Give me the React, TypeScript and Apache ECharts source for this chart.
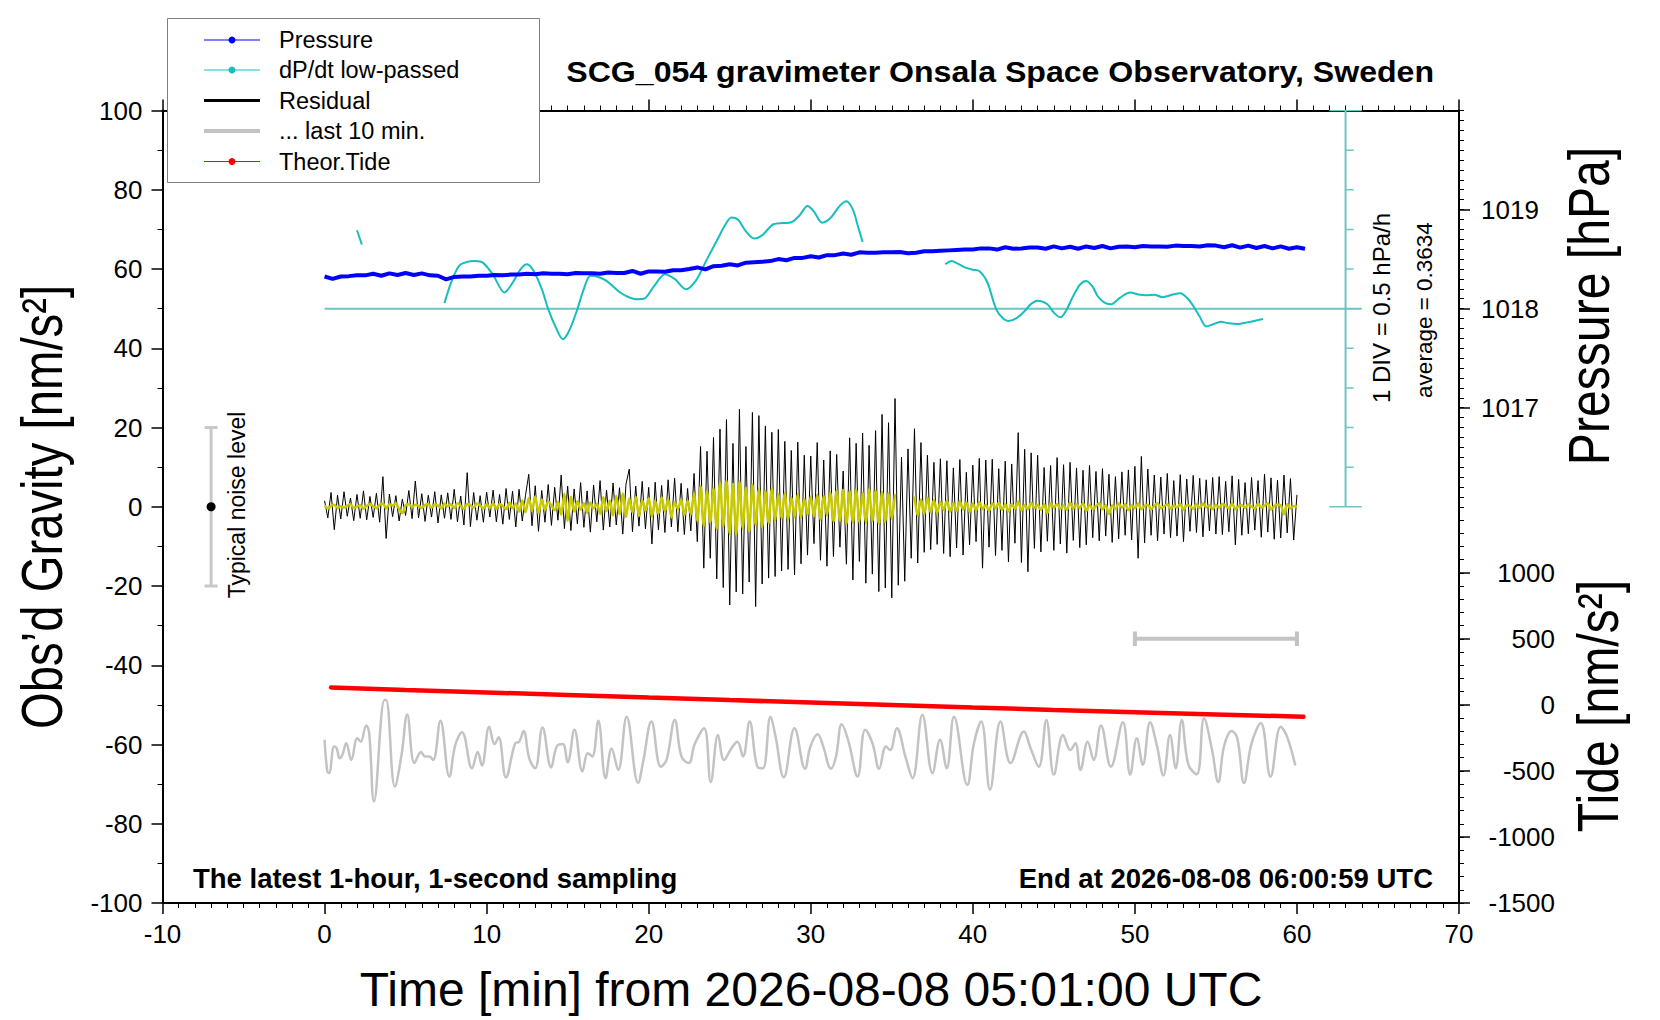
import React, { useEffect, useRef } from 'react';
import * as echarts from 'echarts';

const FONT = "'Liberation Sans', Arial, Helvetica, sans-serif";

// residual gravity [nm/s^2], one value every 0.2 min from 0 to 60 min
const residualStep = 0.2;
const residual: number[] = [
  1.5, -2.8, 3.6, -5.8, 2.9, -3.1, 3.8, -2.4, 2.2, -3.5, 3.1, -2.9, 4.0, -3.3, 2.6, -2.7, 3.4, -3.9, 7.6, -8.0, 3.2, -2.5, 2.8, -3.6, 1.9,
  -2.2, 4.1, -3.0, 6.5, -2.8, 3.3, -3.7, 2.9, -2.6, 3.8, -4.1, 3.0, -2.9, 3.5, -3.2, 4.4, -3.8, 2.7, -4.6, 8.6, -5.0, 3.6, -3.4, 2.8, -3.9,
  3.7, -2.6, 4.2, -3.8, 3.1, -4.4, 4.6, -3.2, 3.9, -5.1, 4.4, -3.6, 2.9, 8.2, -4.8, 5.3, -6.2, 4.1, -3.9, 5.6, -4.7, 4.9, -3.4, 8.0, -5.5,
  5.2, -6.0, 4.5, -4.3, 6.1, -5.2, 4.0, -6.4, 5.5, -3.8, 6.6, -5.9, 4.2, -5.1, 6.0, -4.6, 4.8, -6.9, 5.7, 9.5, -6.3, 5.2, -4.9, 6.4, -5.6,
  4.9, -9.4, 6.2, -5.8, 5.4, -6.5, 6.8, -5.1, 7.2, -6.3, 5.9, -7.0, 4.6, -6.1, 8.4, -8.8, 15.2, -15.5, 14.0, -13.0, 17.5, -18.2, 19.6, -20.4, 22.0,
  -24.8, 16.0, -21.5, 24.6, -22.0, 15.2, -19.0, 23.8, -25.2, 23.0, -19.5, 20.4, -18.0, 18.8, -17.6, 19.5, -16.2, 16.5, -15.8, 14.2, -17.2, 16.3, -14.4, 13.0, -12.2,
  12.8, -9.3, 16.2, -13.5, 11.8, -15.0, 14.1, -12.6, 13.2, -10.2, 9.0, -14.5, 17.4, -18.5, 16.0, -13.8, 18.6, -19.3, 15.5, -17.0, 19.2, -21.4, 23.3, -20.5, 21.2,
  -23.0, 27.3, -19.8, 12.5, -18.8, 14.6, -13.0, 19.7, -14.2, 16.2, -11.5, 13.0, -10.8, 11.2, -9.5, 12.1, -11.8, 11.6, -12.6, 9.8, -10.4, 11.9, -12.2, 8.7, -9.6,
  10.5, -8.8, 12.2, -15.5, 11.8, -10.2, 12.0, -12.3, 9.6, -11.0, 11.5, -13.9, 10.8, -9.2, 18.7, -14.1, 14.5, -16.4, 13.6, -10.5, 13.0, -11.4, 9.9, -8.7, 10.4,
  -11.0, 12.4, -9.4, 10.6, -11.7, 11.2, -8.5, 9.8, -10.3, 9.2, -9.6, 10.4, -7.8, 8.9, -8.6, 9.6, -7.4, 8.2, -9.0, 7.6, -8.1, 8.8, -7.2, 9.3, -8.4,
  10.2, -13.0, 12.7, -9.1, 9.5, -7.2, 8.0, -8.6, 7.5, -6.9, 8.4, -7.8, 6.6, -7.4, 8.1, -8.8, 7.0, -6.2, 7.9, -6.5, 7.2, -7.6, 6.8, -6.1, 7.4,
  -6.9, 7.6, -7.0, 6.4, -6.3, 7.8, -9.6, 6.9, -7.2, 6.1, -6.8, 7.4, -5.9, 6.6, -7.7, 8.2, -6.4, 7.3, -8.2, 6.7, -7.9, 8.0, -6.6, 7.1, -8.4,
  3.0,
];

// low-passed residual (yellow), same sampling
const residualLow: (number | null)[] = [
  0.3, -0.4, 0.2, 0.5, -0.3, 0.1, -0.2, 0.3, 0.6, -0.2, 0.0, 0.4, -0.5, 0.2, 0.7, 0.1, -0.3, 0.5, 0.8, -0.4, 0.6, 0.3, 0.9, -0.6, -1.6,
  0.4, 0.6, -0.1, 0.5, 0.2, -0.3, 0.4, 0.7, -0.2, 0.5, 0.3, -0.4, 0.8, 0.1, 0.6, -0.3, 0.9, 0.2, -0.5, 0.7, 0.4, -0.2, 0.8, 0.3, -0.4,
  0.6, -0.3, 0.9, -0.5, 0.7, 0.2, -0.6, 1.0, -0.4, 0.8, -1.2, 1.6, -1.4, 2.2, -1.0, 2.6, -1.6, 1.8, -0.8, 1.4, 0.3, -0.9, 1.2, -2.0, 3.3,
  -3.6, 2.6, -1.2, 1.4, -0.8, 0.9, -1.5, 1.1, -0.4, 0.7, -1.8, 2.4, -1.1, 1.6, -2.2, 2.8, -1.9, 3.4, -2.6, 2.1, -1.4, 2.5, -2.3, 1.7, -1.0,
  2.2, -2.5, 1.5, -1.8, 2.4, -1.2, 2.0, -2.7, 1.2, -0.6, 1.8, -2.1, 1.6, -1.9, 3.4, -3.6, 5.2, -4.8, 4.0, -3.9, 4.6, -5.6, 6.2, -5.0, 6.6,
  -6.9, 5.8, -7.0, 6.4, -5.5, 4.8, -6.2, 5.6, -4.6, 4.4, -5.2, 3.9, -4.1, 4.6, -3.5, 3.2, -2.9, 3.6, -3.4, 2.4, -2.6, 3.2, -2.8, 2.0, -1.9,
  2.6, -2.4, 3.1, -3.3, 2.8, -2.2, 3.6, -3.8, 4.1, -3.5, 4.2, -4.3, 3.9, -4.0, 4.3, -3.8, 3.5, -4.1, 4.4, -3.6, 4.0, -4.2, 3.7, -3.9, 3.4,
  -3.0, 3.2, null, null, null, null, null, 2.6, -2.2, 1.8, -1.9, 2.3, -1.4, 1.7, -1.6, 1.2, -0.8, 1.5, -1.2, 0.9, -1.1, 1.4, -0.7, 1.1, -1.3,
  0.8, -0.9, 1.2, -0.6, 0.5, -1.0, 0.9, -0.4, 1.1, -0.8, 0.6, -1.2, 0.7, -0.5, 1.3, -0.9, 0.4, -0.6, 1.0, -0.3, 0.5, -0.8, 0.6, -1.6, 0.9,
  -0.2, 0.7, -0.5, 0.3, -0.8, 1.0, -0.4, 0.6, -0.3, 0.9, -1.1, 0.5, -0.6, 0.2, 0.8, -0.7, 0.4, -1.8, 0.3, -0.5, 0.9, -0.2, 0.6, -0.9, 0.4,
  -0.3, 0.8, -0.6, 0.2, 0.5, -0.7, 0.3, 0.9, -0.4, 0.1, 0.6, -0.5, 0.3, -0.2, 0.7, -0.8, 0.4, 0.2, -0.5, 0.6, -0.3, 0.8, -0.1, 0.4, -0.6,
  0.5, -0.2, 0.7, 0.3, -0.4, 0.9, -0.6, 0.2, 0.4, -0.3, 0.6, 0.1, -0.5, 0.8, -0.2, 0.3, 0.9, -0.7, 0.2, 0.5, 0.4, -1.9, 0.6, -0.4, 0.2,
  0.0,
];

// air pressure [hPa], every 0.5 min
const pressureStep = 0.5;
const pressure: number[] = [
  1018.324, 1018.300, 1018.324, 1018.328, 1018.336, 1018.336, 1018.352, 1018.332, 1018.356, 1018.340,
  1018.360, 1018.340, 1018.356, 1018.336, 1018.332, 1018.296, 1018.320, 1018.324, 1018.324, 1018.332,
  1018.332, 1018.340, 1018.336, 1018.344, 1018.344, 1018.352, 1018.348, 1018.356, 1018.352, 1018.352,
  1018.348, 1018.360, 1018.356, 1018.356, 1018.352, 1018.364, 1018.360, 1018.360, 1018.380, 1018.352,
  1018.376, 1018.376, 1018.372, 1018.388, 1018.388, 1018.400, 1018.416, 1018.396, 1018.428, 1018.432,
  1018.448, 1018.436, 1018.464, 1018.468, 1018.472, 1018.480, 1018.500, 1018.488, 1018.512, 1018.512,
  1018.528, 1018.516, 1018.540, 1018.540, 1018.556, 1018.544, 1018.568, 1018.564, 1018.564, 1018.568,
  1018.568, 1018.572, 1018.560, 1018.564, 1018.580, 1018.580, 1018.584, 1018.588, 1018.592, 1018.596,
  1018.596, 1018.608, 1018.608, 1018.596, 1018.620, 1018.604, 1018.608, 1018.616, 1018.616, 1018.604,
  1018.628, 1018.608, 1018.624, 1018.604, 1018.628, 1018.612, 1018.632, 1018.608, 1018.624, 1018.628,
  1018.620, 1018.632, 1018.628, 1018.628, 1018.624, 1018.636, 1018.632, 1018.632, 1018.628, 1018.640,
  1018.636, 1018.620, 1018.640, 1018.616, 1018.636, 1018.612, 1018.632, 1018.608, 1018.628, 1018.604,
  1018.620, 1018.604,
];

// dP/dt low-passed [hPa/h], null = gap
const dpdt: ([number, number] | null)[] = [
  [2.0, 1.353], [2.3, 1.173],
  null,
  [7.4, 0.433], [7.8, 0.688], [8.3, 0.903], [8.8, 0.953], [9.3, 0.963], [9.8, 0.938], [10.4, 0.788],
  [11.1, 0.568], [11.6, 0.688], [12.1, 0.863], [12.5, 0.923], [12.9, 0.838], [13.4, 0.613], [13.8, 0.358],
  [14.3, 0.113], [14.7, -0.022], [15.1, 0.088], [15.6, 0.358], [16.0, 0.613], [16.4, 0.778], [16.9, 0.763],
  [17.4, 0.713], [18.2, 0.573], [18.7, 0.513], [19.2, 0.483], [19.7, 0.488], [20.3, 0.638], [21.0, 0.798],
  [21.6, 0.738], [22.3, 0.608], [22.9, 0.713], [23.6, 0.988], [24.25, 1.238], [24.7, 1.413], [25.1, 1.513],
  [25.5, 1.488], [26.0, 1.338], [26.5, 1.248], [27.0, 1.288], [27.7, 1.428], [28.3, 1.443], [28.8, 1.453],
  [29.3, 1.538], [29.8, 1.658], [30.2, 1.588], [30.7, 1.448], [31.2, 1.503], [31.8, 1.663], [32.2, 1.718],
  [32.6, 1.613], [32.9, 1.413], [33.2, 1.203],
  null,
  [38.3, 0.923], [38.7, 0.963], [39.1, 0.928], [39.5, 0.883], [40.0, 0.853], [40.4, 0.838], [40.9, 0.693],
  [41.5, 0.333], [42.2, 0.208], [42.7, 0.243], [43.2, 0.333], [43.6, 0.423], [44.0, 0.463], [44.6, 0.418],
  [45.0, 0.313], [45.4, 0.253], [45.8, 0.353], [46.1, 0.483], [46.6, 0.663], [47.0, 0.713], [47.4, 0.638],
  [47.7, 0.523], [48.1, 0.443], [48.5, 0.418], [49.1, 0.503], [49.7, 0.568], [50.2, 0.543], [50.7, 0.533],
  [51.2, 0.538], [51.7, 0.508], [52.3, 0.538], [52.8, 0.558], [53.2, 0.503], [53.6, 0.398], [54.0, 0.263],
  [54.4, 0.138], [54.8, 0.163], [55.3, 0.198], [55.8, 0.178], [56.3, 0.168], [57.0, 0.193], [57.9, 0.233],
];
const dpdtAverage = 0.3634;
const dpdtDiv = 0.5;

// last 10 minutes of residual, stretched over the hour and offset [nm/s^2]
const lastTenMin: [number, number][] = [
  [0.0, -58.8], [0.17, -66.8], [0.28, -67.2], [0.59, -60.5], [0.75, -61.0], [0.93, -63.5], [1.1, -62.6], [1.34, -59.7],
  [1.65, -63.9], [2.02, -58.4], [2.23, -59.3], [2.57, -55.2], [2.75, -57.0], [3.05, -74.4], [3.7, -48.8], [3.8, -48.8],
  [4.34, -70.6], [4.75, -62.6], [5.1, -52.4], [5.55, -64.7], [5.96, -61.9], [6.19, -63.0], [6.47, -63.0], [6.7, -63.9],
  [7.15, -54.0], [7.7, -68.1], [8.07, -60.1], [8.48, -56.9], [9.1, -66.0], [9.45, -61.9], [9.71, -65.3], [10.16, -55.5],
  [10.49, -59.9], [10.74, -58.2], [11.19, -68.3], [11.76, -59.7], [12.01, -59.3], [12.28, -56.6], [12.63, -63.5], [12.99, -66.0],
  [13.45, -55.7], [13.98, -65.8], [14.33, -60.5], [14.7, -59.9], [15.0, -64.5], [15.42, -56.3], [15.91, -66.8], [16.24, -62.2],
  [16.52, -63.0], [16.89, -54.0], [17.34, -68.5], [17.71, -61.0], [18.12, -66.4], [18.64, -53.0], [19.35, -69.7], [19.66, -64.3],
  [20.17, -54.2], [20.75, -65.6], [21.1, -63.9], [21.61, -53.8], [22.02, -63.0], [22.47, -64.7], [22.84, -59.9], [23.42, -55.9],
  [23.83, -69.5], [24.28, -57.6], [24.65, -63.9], [25.1, -61.0], [25.47, -59.3], [25.82, -63.0], [26.23, -54.2], [26.74, -65.8],
  [27.05, -66.0], [27.52, -53.0], [27.81, -57.6], [28.34, -68.3], [29.0, -55.9], [29.65, -66.1], [29.98, -60.5], [30.43, -57.4],
  [30.74, -60.1], [31.25, -66.1], [31.56, -63.0], [31.91, -54.9], [32.32, -59.1], [32.89, -68.1], [33.36, -56.3], [33.81, -59.7],
  [34.22, -66.1], [34.64, -60.5], [34.9, -61.4], [35.31, -55.9], [35.87, -63.5], [36.28, -68.5], [36.89, -52.5], [37.51, -67.2],
  [37.98, -58.8], [38.39, -66.0], [38.84, -53.0], [39.66, -70.2], [40.07, -59.7], [40.52, -54.2], [41.06, -71.4], [41.71, -54.2],
  [42.33, -64.7], [43.15, -56.7], [43.56, -60.9], [44.07, -65.6], [44.54, -53.8], [45.0, -67.6], [45.57, -57.6], [46.02, -61.4],
  [46.33, -59.7], [46.64, -66.4], [47.09, -59.3], [47.46, -63.9], [47.91, -55.2], [48.52, -65.6], [49.26, -54.4], [49.71, -67.6],
  [50.12, -58.4], [50.49, -65.1], [50.94, -54.4], [51.35, -60.1], [51.76, -67.8], [52.17, -57.6], [52.52, -66.0], [52.89, -53.8],
  [53.3, -65.1], [53.82, -67.5], [54.27, -53.4], [54.74, -60.9], [55.15, -69.5], [55.5, -60.5], [55.97, -56.6], [56.32, -58.4],
  [56.73, -69.7], [57.2, -59.7], [57.77, -54.6], [58.37, -68.1], [59.0, -55.5], [59.39, -58.0], [59.9, -65.3],
];

// theoretical tide [nm/s^2]
const tide: [number, number][] = [
  [0.4, 132], [5, 113], [10, 94], [15, 75], [20, 55], [25, 36], [30, 18],
  [35, -1], [40, -20], [45, -38], [50, -55], [55, -72], [60.4, -90],
];

const noiseX = -7;
const noiseLevel = 20;
const tenMinBar = [50, 60];
const tenMinBarTide = 500;
const scaleBarX = 63;

const pressureLabels = [1017, 1018, 1019];
const tideLabels = [-1500, -1000, -500, 0, 500, 1000];
const legendNames = ['Pressure', 'dP/dt low-passed', 'Residual', '... last 10 min.', 'Theor.Tide'];
const legendColors = ['#0000ff', '#17bebe', '#000000', '#c3c3c3', '#ff0000'];

const pressureMinor: number[] = [];
for (let i = 0; i <= 40; i++) pressureMinor.push(Math.round((1016 + i * 0.1) * 10) / 10);
const tideMinor: number[] = [];
for (let v = -1500; v <= 1500; v += 100) tideMinor.push(v);

const black = '#000';

function buildOption(): echarts.EChartsOption {
  const tickStyle = { color: black, width: 1.5 };
  const label = { color: black, fontSize: 26, fontFamily: FONT, formatter: (v: number) => String(v) };

  const xBase = {
    type: 'value' as const,
    min: -10,
    max: 70,
    interval: 10,
    splitLine: { show: false },
    axisLine: { show: true, onZero: false, lineStyle: { color: black, width: 2 } },
    axisTick: { show: true, length: 11, lineStyle: tickStyle },
    minorTick: { show: true, splitNumber: 10, length: 5, lineStyle: { color: black, width: 1 } },
  };

  const scaleTicks: ([number, number] | null)[] = [];
  for (let k = -5; k <= 5; k++) {
    const v = dpdtAverage + k * dpdtDiv;
    const wide = Math.abs(k) === 5;
    scaleTicks.push([wide ? scaleBarX - 1 : scaleBarX, v], [wide ? scaleBarX + 1 : scaleBarX + 0.5, v], null);
  }

  const line = (o: any) => ({ type: 'line', symbol: 'none', silent: true, connectNulls: false, ...o });

  const txt = (x: number, y: number, text: string, fontSize: number, extra: any = {}, style: any = {}) => ({
    type: 'text',
    x,
    y,
    z: 100,
    ...extra,
    style: {
      text,
      fontSize,
      fontFamily: FONT,
      fill: black,
      align: 'center',
      verticalAlign: 'middle',
      ...style,
    },
  });

  const rowY = [40, 70, 100.5, 131, 161.5];
  const legend: any[] = [
    {
      type: 'rect',
      z: 100,
      shape: { x: 167.5, y: 18.5, width: 372, height: 164 },
      style: { fill: '#fff', stroke: '#7f7f7f', lineWidth: 1 },
    },
  ];
  legendNames.forEach((name, i) => {
    const thick = i === 2 ? 3 : i === 3 ? 4 : 1;
    legend.push({
      type: 'line',
      z: 101,
      shape: { x1: 204, y1: rowY[i], x2: 260, y2: rowY[i] },
      style: { stroke: legendColors[i], lineWidth: thick },
    });
    if (thick === 1) {
      legend.push({
        type: 'circle',
        z: 102,
        shape: { cx: 232, cy: rowY[i], r: 3.5 },
        style: { fill: legendColors[i] },
      });
    }
    legend.push(txt(279, rowY[i], name, 23.5, {}, { align: 'left' }));
  });

  return {
    animation: false,
    backgroundColor: '#fff',
    grid: { left: 162.5, right: 201, top: 110.5, bottom: 117, containLabel: false },
    xAxis: [
      { ...xBase, position: 'bottom', axisLabel: { ...label, margin: 18 } },
      { ...xBase, position: 'top', axisLabel: { show: false } },
    ],
    yAxis: [
      {
        type: 'value',
        position: 'left',
        min: -100,
        max: 100,
        interval: 20,
        splitLine: { show: false },
        axisLine: { show: true, onZero: false, lineStyle: { color: black, width: 2 } },
        axisTick: { show: true, length: 11, lineStyle: tickStyle },
        minorTick: { show: true, splitNumber: 2, length: 5, lineStyle: { color: black, width: 1 } },
        axisLabel: { ...label, margin: 20 },
      },
      {
        type: 'value',
        position: 'right',
        min: 1012,
        max: 1020,
        splitLine: { show: false },
        axisLine: { show: true, onZero: false, lineStyle: { color: black, width: 2 } },
        axisTick: { show: true, length: 11, lineStyle: tickStyle, customValues: pressureLabels },
        axisLabel: { ...label, margin: 22, customValues: pressureLabels },
      },
      {
        type: 'value',
        position: 'right',
        min: 1012,
        max: 1020,
        splitLine: { show: false },
        axisLine: { show: false, onZero: false },
        axisTick: { show: true, length: 5, lineStyle: { color: black, width: 1 }, customValues: pressureMinor },
        axisLabel: { show: false },
      },
      {
        type: 'value',
        position: 'right',
        min: -1500,
        max: 4500,
        splitLine: { show: false },
        axisLine: { show: false, onZero: false },
        axisTick: { show: true, length: 11, lineStyle: tickStyle, customValues: tideLabels },
        axisLabel: { ...label, margin: 96, align: 'right', customValues: tideLabels },
      },
      {
        type: 'value',
        position: 'right',
        min: -1500,
        max: 4500,
        splitLine: { show: false },
        axisLine: { show: false, onZero: false },
        axisTick: { show: true, length: 5, lineStyle: { color: black, width: 1 }, customValues: tideMinor },
        axisLabel: { show: false },
      },
      {
        type: 'value',
        show: false,
        min: dpdtAverage - 15 * dpdtDiv,
        max: dpdtAverage + 5 * dpdtDiv,
      },
    ],
    series: [
      line({
        name: 'dP/dt average',
        yAxisIndex: 5,
        data: [[0, dpdtAverage], [64, dpdtAverage]],
        lineStyle: { color: '#6ec6c1', width: 2 },
      }),
      line({
        name: 'scale bar',
        yAxisIndex: 5,
        data: [[scaleBarX, dpdtAverage - 5 * dpdtDiv], [scaleBarX, dpdtAverage + 5 * dpdtDiv]],
        lineStyle: { color: '#6ec6c1', width: 2 },
      }),
      line({
        name: 'scale ticks',
        yAxisIndex: 5,
        data: scaleTicks,
        lineStyle: { color: '#6ec6c1', width: 1.5 },
      }),
      line({
        name: 'dP/dt low-passed',
        yAxisIndex: 5,
        data: dpdt,
        smooth: 0.3,
        lineStyle: { color: '#17bebe', width: 2 },
      }),
      line({
        name: 'Pressure',
        yAxisIndex: 1,
        data: pressure.map((p, i) => [i * pressureStep, p]),
        lineStyle: { color: '#0000ff', width: 4 },
      }),
      line({
        name: 'Residual',
        yAxisIndex: 0,
        data: residual.map((v, i) => [i * residualStep, v]),
        lineStyle: { color: black, width: 1 },
      }),
      line({
        name: 'Residual low-passed',
        yAxisIndex: 0,
        data: residualLow.map((v, i) => [i * residualStep, v]),
        smooth: 0.3,
        lineStyle: { color: '#c9c900', width: 2.5 },
      }),
      line({
        name: '... last 10 min.',
        yAxisIndex: 0,
        data: lastTenMin,
        smooth: 0.4,
        lineStyle: { color: '#c3c3c3', width: 2.5 },
      }),
      line({
        name: 'Theor.Tide',
        yAxisIndex: 3,
        data: tide,
        lineStyle: { color: '#ff0000', width: 4.5, cap: 'round' },
      }),
      line({
        name: '10 min bar',
        yAxisIndex: 3,
        data: [
          [tenMinBar[0], tenMinBarTide], [tenMinBar[1], tenMinBarTide], null,
          [tenMinBar[0], tenMinBarTide - 55], [tenMinBar[0], tenMinBarTide + 55], null,
          [tenMinBar[1], tenMinBarTide - 55], [tenMinBar[1], tenMinBarTide + 55],
        ],
        lineStyle: { color: '#c3c3c3', width: 4 },
      }),
      line({
        name: 'Typical noise level',
        yAxisIndex: 0,
        data: [
          [noiseX, -noiseLevel], [noiseX, noiseLevel], null,
          [noiseX - 0.4, noiseLevel], [noiseX + 0.4, noiseLevel], null,
          [noiseX - 0.4, -noiseLevel], [noiseX + 0.4, -noiseLevel],
        ],
        lineStyle: { color: '#c8c8c8', width: 3 },
      }),
      {
        type: 'scatter',
        silent: true,
        yAxisIndex: 0,
        z: 5,
        symbol: 'circle',
        symbolSize: 9,
        itemStyle: { color: black, borderWidth: 0, opacity: 1 },
        data: [[noiseX, 0]],
      },
    ],
    graphic: {
      elements: [
        ...legend,
        txt(1434, 72, 'SCG_054 gravimeter Onsala Space Observatory, Sweden', 30, { scaleX: 1.07 }, { align: 'right', fontWeight: 'bold' }),
        txt(193, 878, 'The latest 1-hour, 1-second sampling', 27.5, {}, { align: 'left', fontWeight: 'bold' }),
        txt(1433, 878, 'End at 2026-08-08 06:00:59 UTC', 27.5, {}, { align: 'right', fontWeight: 'bold' }),
        txt(811, 989, 'Time [min] from 2026-08-08 05:01:00 UTC', 48),
        txt(42, 507, 'Obs\u2019d Gravity [nm/s\u00b2]', 57, { rotation: Math.PI / 2, scaleX: 0.83 }),
        txt(1589, 306, 'Pressure [hPa]', 58, { rotation: Math.PI / 2, scaleX: 0.83 }),
        txt(1598, 706, 'Tide [nm/s\u00b2]', 58, { rotation: Math.PI / 2, scaleX: 0.83 }),
        txt(1381, 308, '1 DIV = 0.5 hPa/h', 24, { rotation: Math.PI / 2 }),
        txt(1424, 310, 'average = 0.3634', 22.5, { rotation: Math.PI / 2 }),
        txt(237, 505, 'Typical noise level', 23, { rotation: Math.PI / 2 }),
      ],
    },
  } as echarts.EChartsOption;
}

const App: React.FC = () => {
  const chartRef = useRef<HTMLDivElement>(null);

  useEffect(() => {
    if (!chartRef.current) return;
    const chart = echarts.init(chartRef.current, undefined, { renderer: 'svg' });
    chart.setOption(buildOption());
    return () => {
      chart.dispose();
    };
  }, []);

  return (
    <div
      ref={chartRef}
      style={{ position: 'absolute', left: 0, top: 0, width: 1660, height: 1020, background: '#fff' }}
    />
  );
};

export default App;
